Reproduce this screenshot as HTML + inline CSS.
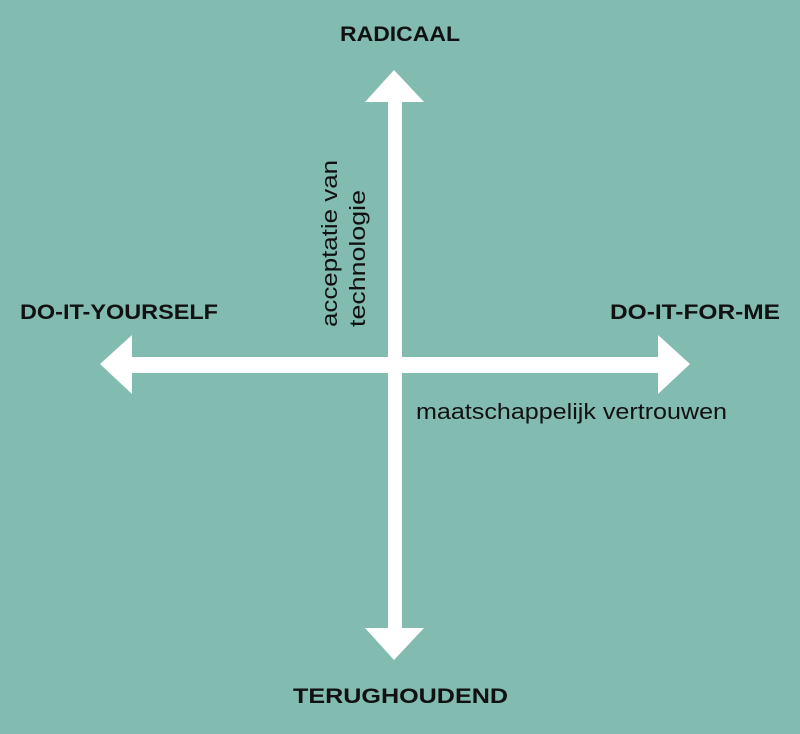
<!DOCTYPE html>
<html><head><style>
html,body{margin:0;padding:0;}
body{width:800px;height:729px;background:#82bbb0;overflow:hidden;}
</style></head><body>
<svg width="800" height="729" viewBox="0 0 800 729" xmlns="http://www.w3.org/2000/svg">
<rect width="800" height="729" fill="#82bbb0"/>
<g fill="#ffffff">
<rect x="388" y="100" width="14" height="530"/>
<polygon points="394,70 424,102 365,102"/>
<polygon points="394,660 424,628 365,628"/>
<rect x="130" y="357" width="530" height="16"/>
<polygon points="100,364 132,335 132,394"/>
<polygon points="690,364 658,335 658,394"/>
</g>
<g font-family="Liberation Sans, sans-serif" fill="#111">
<text x="340" y="41" font-size="21" font-weight="bold" textLength="120" lengthAdjust="spacingAndGlyphs">RADICAAL</text>
<text x="293" y="703" font-size="21" font-weight="bold" textLength="215" lengthAdjust="spacingAndGlyphs">TERUGHOUDEND</text>
<text x="20" y="319" font-size="21" font-weight="bold" textLength="198" lengthAdjust="spacingAndGlyphs">DO-IT-YOURSELF</text>
<text x="610" y="319" font-size="21" font-weight="bold" textLength="170" lengthAdjust="spacingAndGlyphs">DO-IT-FOR-ME</text>
<text x="416" y="419" font-size="22" textLength="311" lengthAdjust="spacingAndGlyphs">maatschappelijk vertrouwen</text>
<text transform="translate(337,327) rotate(-90)" font-size="22" textLength="167" lengthAdjust="spacingAndGlyphs">acceptatie van</text>
<text transform="translate(365,327) rotate(-90)" font-size="22" textLength="137" lengthAdjust="spacingAndGlyphs">technologie</text>
</g>
</svg>
</body></html>
